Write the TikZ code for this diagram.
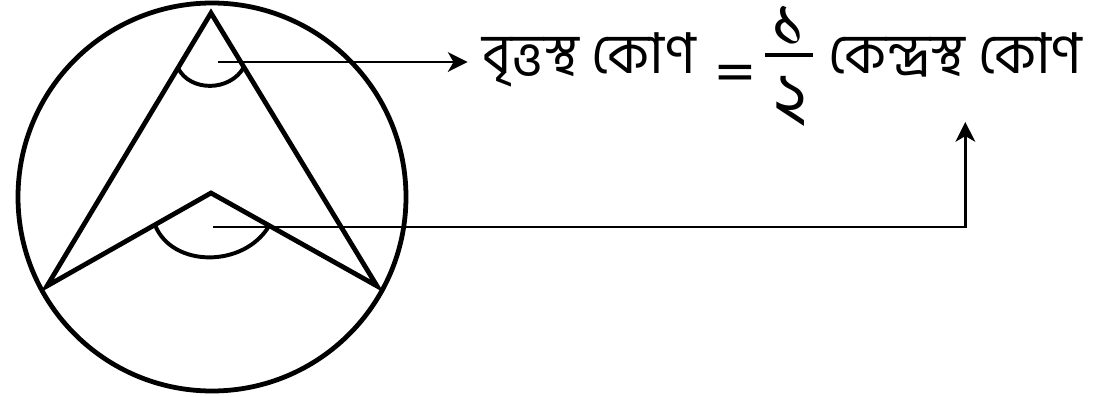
\documentclass[tikz,border=0pt]{standalone}
\usepackage{fontspec}
\newfontfamily\bnfont[Script=Bengali]{Hind Siliguri}
\newfontfamily\eqfont{Liberation Sans}
\usetikzlibrary{arrows.meta}
\begin{document}
\begin{tikzpicture}[x=0.025cm, y=-0.025cm,
    bold/.style={line width=3.4pt, line join=miter},
    anglearc/.style={line width=2.8pt},
    pointer/.style={line width=1.8pt, -{Stealth[length=14pt, width=14pt, inset=4pt]}},
    bntext/.style={font=\bnfont\fontsize{40}{46}\selectfont, inner sep=0pt},
    digit/.style={font=\bnfont\fontsize{50}{56}\selectfont, inner sep=0pt}]
    \useasboundingbox (0,0) rectangle (1094,396);
    % Circle
    \draw[bold] (212,197) circle[radius=194];
    % Inscribed and central angles
    \coordinate (A) at (211,13);
    \coordinate (B) at (47,286);
    \coordinate (C) at (377,286);
    \coordinate (O) at (211,193);
    \draw[bold] (A) -- (C) -- (O) -- (B) -- cycle;
    \draw[anglearc] (178,68) .. controls (190,92) and (230,92) .. (244,67);
    \draw[anglearc] (155,225) .. controls (172,268) and (244,268) .. (269,226);
    % Labels
    \node[bntext, anchor=base west] (lhs) at (482,73) {বৃত্তস্থ কোণ};
    \node[inner sep=0pt, font=\eqfont\bfseries\fontsize{46}{50}\selectfont] (eq) at (735,75) {\scalebox{1}[0.6]{=}};
    \node[digit, anchor=south] (one) at (789,47) {১};
    \node[digit, anchor=north] (two) at (791,76) {২};
    \draw[line width=2.2pt] (765,55) -- (813,55);
    \node[bntext, anchor=base west] (rhs) at (828,73) {কেন্দ্রস্থ কোণ};
    % Pointers
    \coordinate (ipt) at (218,62);
    \coordinate (cpt) at (213,227);
    \draw[pointer, shorten >=0.36cm] (ipt) -- (ipt -| lhs.west);
    \draw[pointer] (cpt) -| ([xshift=0.25cm, yshift=-1.225cm]rhs.base);
\end{tikzpicture}
\end{document}
